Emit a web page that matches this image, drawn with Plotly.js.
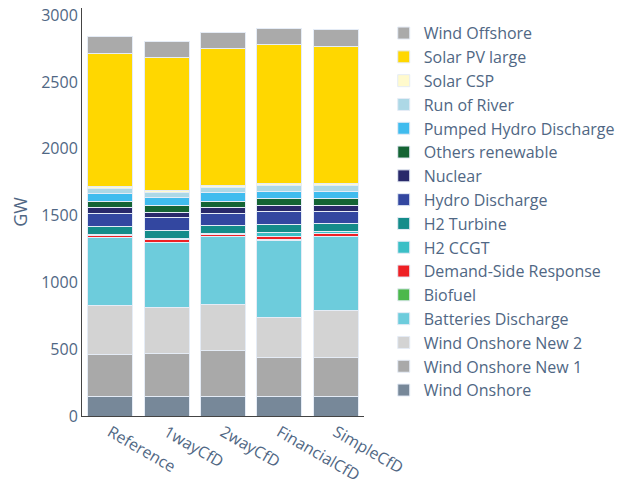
<!DOCTYPE html>
<html>
<head>
<meta charset="utf-8">
<script src="https://cdn.plot.ly/plotly-3.0.1.min.js"></script>
<style>html,body{margin:0;padding:0;background:#fff;}#chart{width:628px;height:479px;}</style>
</head>
<body>
<div id="chart"></div>
<script>
const categories = ["Reference", "1wayCfD", "2wayCfD", "FinancialCfD", "SimpleCfD"];

const windOnshore       = [148, 148, 148, 148, 148];
const windOnshoreNew1   = [311, 318, 345, 292, 292];
const windOnshoreNew2   = [370, 348, 345, 296, 348];
const batteries         = [504, 482, 503, 580, 557];
const biofuel           = [2, 2, 2, 5, 2];
const demandSide        = [16, 24, 18, 22, 22];
const h2CCGT            = [7, 5, 8, 30, 15];
const h2Turbine         = [60, 60, 58, 60, 55];
const hydroDischarge    = [97, 95, 87, 97, 95];
const nuclear           = [45, 43, 50, 45, 45];
const othersRenewable   = [48, 52, 45, 50, 50];
const pumpedHydro       = [54, 55, 62, 55, 55];
const runOfRiver        = [40, 42, 40, 43, 43];
const solarCSP          = [17, 12, 12, 15, 15];
const solarPV           = [995, 1000, 1025, 1040, 1020];
const windOffshore      = [125, 120, 122, 123, 132];

const seriesNames = ["Wind Onshore", "Wind Onshore New 1", "Wind Onshore New 2", "Batteries Discharge",
  "Biofuel", "Demand-Side Response", "H2 CCGT", "H2 Turbine", "Hydro Discharge", "Nuclear",
  "Others renewable", "Pumped Hydro Discharge", "Run of River", "Solar CSP", "Solar PV large", "Wind Offshore"];
const seriesValues = [windOnshore, windOnshoreNew1, windOnshoreNew2, batteries, biofuel, demandSide,
  h2CCGT, h2Turbine, hydroDischarge, nuclear, othersRenewable, pumpedHydro, runOfRiver, solarCSP, solarPV, windOffshore];
const seriesColors = ["#778899", "#a9a9a9", "#d3d3d3", "#6dccdc", "#4cb84c", "#ee2024", "#3bbfc6",
  "#148c8a", "#3347a0", "#29296a", "#146434", "#40bcee", "#add8e6", "#fffacd", "#ffd700", "#aaaaaa"];

const traces = seriesNames.map((n, i) => ({
  type: "bar",
  name: n,
  x: categories,
  y: seriesValues[i],
  marker: {color: seriesColors[i], line: {color: "#e5ecf6", width: 1}}
}));

const layout = {
  width: 628, height: 479,
  barmode: "stack",
  bargap: 0.2,
  paper_bgcolor: "#fff",
  plot_bgcolor: "#fff",
  font: {family: "Open Sans, sans-serif", color: "#506784", size: 16},
  margin: {l: 82, r: 261, t: 8, b: 63},
  showlegend: true,
  legend: {traceorder: "reversed", x: 1.07, y: 0.98, xanchor: "left", yanchor: "top",
           font: {size: 16, color: "#506784"}},
  xaxis: {tickangle: 30, showline: true, linecolor: "#444", linewidth: 1, showgrid: false,
          tickfont: {size: 16, color: "#506784"}},
  yaxis: {title: {text: "GW", font: {size: 18, color: "#506784"}, standoff: 8}, showline: true, linecolor: "#444",
          linewidth: 1, showgrid: false, zeroline: false, tickfont: {size: 16, color: "#506784"}, dtick: 500}
};

Plotly.newPlot("chart", traces, layout, {displayModeBar: false});
</script>
</body>
</html>
